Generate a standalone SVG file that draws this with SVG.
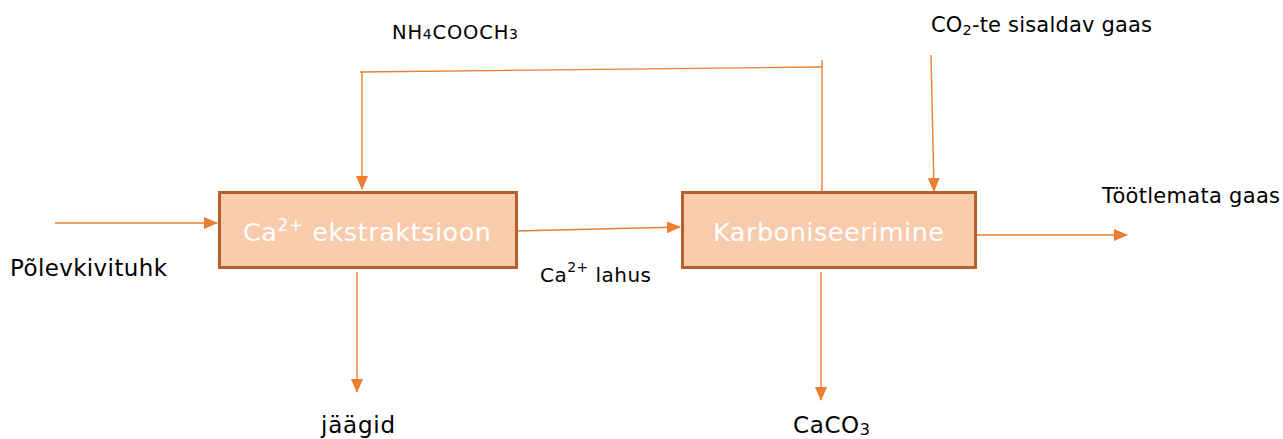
<svg xmlns="http://www.w3.org/2000/svg" width="1283" height="439" viewBox="0 0 1283 439">
  <style>
    .box { fill: #f7cbac; stroke: #b8602a; stroke-width: 3; }
    .boxtext { fill: #ffffff; font-family: "DejaVu Sans", Verdana, sans-serif; font-size: 25.5px; }
    .label { fill: #000000; font-family: "DejaVu Sans", Verdana, sans-serif; }
    .conn { stroke: #ed7d31; stroke-width: 1.4; fill: none; }
  </style>
  <defs>
    <marker id="arrow" markerUnits="userSpaceOnUse" markerWidth="14" markerHeight="14" viewBox="0 0 14 14" refX="13" refY="7" orient="auto">
      <path d="M0,1 L14,7 L0,13 Z" fill="#ed7d31"/>
    </marker>
  </defs>
  <rect width="1283" height="439" fill="#ffffff"/>

  <!-- connectors -->
  <g id="connectors">
    <line class="conn" x1="55" y1="223" x2="217" y2="223" marker-end="url(#arrow)"/>
    <line class="conn" x1="360" y1="72" x2="822" y2="67"/>
    <line class="conn" x1="822" y1="60" x2="822" y2="191"/>
    <line class="conn" x1="362" y1="72" x2="362" y2="189" marker-end="url(#arrow)"/>
    <line class="conn" x1="931" y1="55" x2="934" y2="191" marker-end="url(#arrow)"/>
    <line class="conn" x1="517" y1="231" x2="680" y2="227" marker-end="url(#arrow)"/>
    <line class="conn" x1="357" y1="272" x2="357" y2="392" marker-end="url(#arrow)"/>
    <line class="conn" x1="821" y1="272" x2="821" y2="400" marker-end="url(#arrow)"/>
    <line class="conn" x1="977" y1="235" x2="1127" y2="235" marker-end="url(#arrow)"/>
  </g>

  <!-- process nodes -->
  <g id="node-ekstraktsioon">
    <rect class="box" x="219.5" y="192.5" width="297" height="75"/>
    <text class="boxtext" x="243" y="241" textLength="248" lengthAdjust="spacing">Ca<tspan dy="-10" font-size="17">2+</tspan><tspan dy="10"> ekstraktsioon</tspan></text>
  </g>
  <g id="node-karboniseerimine">
    <rect class="box" x="682.5" y="192.5" width="293" height="75"/>
    <text class="boxtext" x="713" y="241" textLength="231" lengthAdjust="spacing">Karboniseerimine</text>
  </g>

  <!-- stream labels -->
  <g id="label-nh4">
    <text class="label" x="392" y="39" font-size="19.5" textLength="126" lengthAdjust="spacing">NH<tspan font-size="14">4</tspan>COOCH<tspan font-size="14">3</tspan></text>
  </g>
  <g id="label-co2">
    <text class="label" x="931" y="32" font-size="21" textLength="221" lengthAdjust="spacing">CO<tspan font-size="14.5" dy="3">2</tspan><tspan dy="-3">-te sisaldav gaas</tspan></text>
  </g>
  <g id="label-polevkivituhk">
    <text class="label" x="10" y="276" font-size="23" textLength="157" lengthAdjust="spacing">Põlevkivituhk</text>
  </g>
  <g id="label-lahus">
    <text class="label" x="540" y="282" font-size="20" textLength="111" lengthAdjust="spacing">Ca<tspan font-size="14" dy="-10">2+</tspan><tspan dy="10"> lahus</tspan></text>
  </g>
  <g id="label-jaagid">
    <text class="label" x="321" y="433" font-size="23" textLength="74" lengthAdjust="spacing">jäägid</text>
  </g>
  <g id="label-caco3">
    <text class="label" x="793" y="433" font-size="23" textLength="77" lengthAdjust="spacing">CaCO<tspan font-size="16" dy="2">3</tspan></text>
  </g>
  <g id="label-tootlemata">
    <text class="label" x="1102" y="203" font-size="21" textLength="178" lengthAdjust="spacing">Töötlemata gaas</text>
  </g>
</svg>
